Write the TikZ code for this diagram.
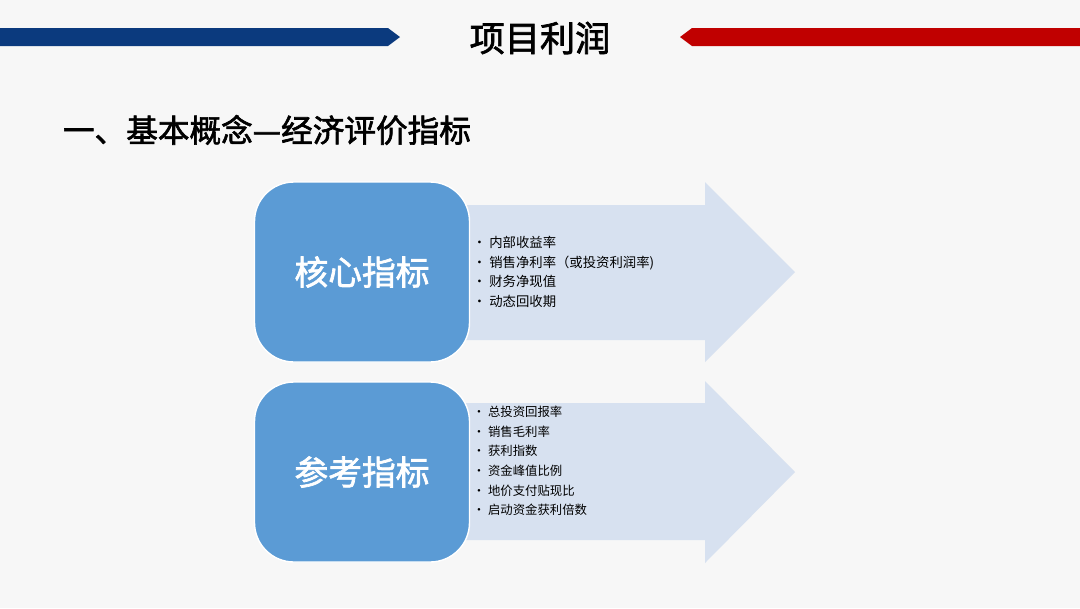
\documentclass[tikz,border=0pt]{standalone}
\usepackage{fontspec}
\newfontfamily\cjk{Noto Sans CJK SC}
\newfontfamily\cjkb{Noto Sans CJK SC}[FakeBold=2]
\definecolor{navy}{HTML}{0B3A7E}
\definecolor{darkred}{HTML}{C00000}
\definecolor{boxblue}{HTML}{5B9BD5}
\definecolor{arrowbg}{HTML}{D7E1F0}
\tikzset{
  catbox/.style={fill=boxblue,draw=white,line width=1pt,rounded corners=28pt,text=white,font=\cjkb\fontsize{24}{28}\selectfont},
  bigarrow/.style={fill=arrowbg,draw=none},
  bullets/.style={anchor=west,align=left,font=\cjk\fontsize{9.5}{14}\selectfont,text=black}
}
\begin{document}
\begin{tikzpicture}[x=0.025cm,y=-0.025cm]
\useasboundingbox (0,0) rectangle (1080,608);
\fill[white!97!black] (0,0) rectangle (1080,608);
% top bars
\fill[navy] (0,28) -- (388,28) -- (400,37) -- (388,46) -- (0,46) -- cycle;
\fill[darkred] (1080,28) -- (692,28) -- (680,37) -- (692,46) -- (1080,46) -- cycle;
\node[font=\cjkb\fontsize{25}{30}\selectfont] (title) at (540,38) {项目利润};
\node[anchor=west,font=\cjkb\fontsize{22.5}{27}\selectfont] (sub) at (58,130) {一、基本概念—经济评价指标};
% arrow 1
\fill[bigarrow] (455,205) -- (705,205) -- (705,182) -- (795,272) -- (705,362) -- (705,340) -- (455,340) -- cycle;
\node[catbox,minimum width=215*0.025cm,minimum height=180*0.025cm] (core) at (362,272) {核心指标};
\node[bullets] (b1) at (468,272) {• 内部收益率\\• 销售净利率（或投资利润率)\\• 财务净现值\\• 动态回收期};
% arrow 2
\fill[bigarrow] (455,403) -- (705,403) -- (705,381) -- (795,472) -- (705,563) -- (705,540) -- (455,540) -- cycle;
\node[catbox,minimum width=215*0.025cm,minimum height=180*0.025cm] (ref) at (362,472) {参考指标};
\node[bullets,font=\cjk\fontsize{8.8}{14}\selectfont] (b2) at (468,461) {• 总投资回报率\\• 销售毛利率\\• 获利指数\\• 资金峰值比例\\• 地价支付贴现比\\• 启动资金获利倍数};
\end{tikzpicture}
\end{document}
